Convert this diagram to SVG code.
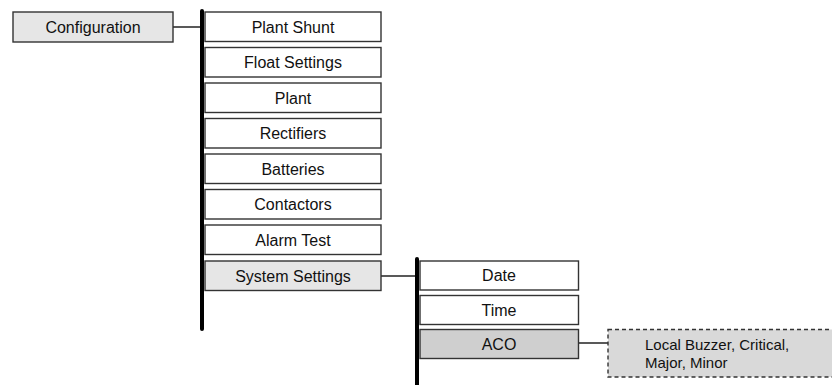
<svg xmlns="http://www.w3.org/2000/svg" width="832" height="385" viewBox="0 0 832 385">
<style>
.box{fill:#ffffff;stroke:#333333;stroke-width:1.4}
.grey{fill:#e6e6e6}
.dark{fill:#cfcfcf}
.dash{fill:#d9d9d9;stroke:#333333;stroke-width:1.4;stroke-dasharray:4,3}
.t{font-family:"Liberation Sans",Arial,sans-serif;font-size:16px;fill:#111111;text-anchor:middle}
.t2{font-family:"Liberation Sans",Arial,sans-serif;font-size:15px;fill:#111111}
.bar{stroke:#000000;stroke-width:4;stroke-linecap:round;fill:none}
.ln{stroke:#222222;stroke-width:1.5;fill:none}
</style>
<rect width="832" height="385" fill="#ffffff"/>
<g id="connectors">
<line class="ln" x1="173" y1="27" x2="202" y2="27"/>
<line class="bar" x1="202" y1="11" x2="202" y2="329"/>
<line class="ln" x1="381" y1="276" x2="417" y2="276"/>
<line class="bar" x1="417" y1="259" x2="417" y2="390"/>
<line class="ln" x1="579" y1="343" x2="608" y2="343"/>
</g>
<g id="configuration"><rect class="box grey" x="13" y="12" width="160" height="30"/><text class="t" x="93" y="32.5">Configuration</text></g>
<g id="plant-shunt"><rect class="box" x="205" y="12" width="176" height="29.5"/><text class="t" x="293" y="32.5">Plant Shunt</text></g>
<g id="float-settings"><rect class="box" x="205" y="47.5" width="176" height="29.5"/><text class="t" x="293" y="68">Float Settings</text></g>
<g id="plant"><rect class="box" x="205" y="83" width="176" height="29.5"/><text class="t" x="293" y="103.5">Plant</text></g>
<g id="rectifiers"><rect class="box" x="205" y="118.5" width="176" height="29.5"/><text class="t" x="293" y="139">Rectifiers</text></g>
<g id="batteries"><rect class="box" x="205" y="154" width="176" height="29.5"/><text class="t" x="293" y="174.5">Batteries</text></g>
<g id="contactors"><rect class="box" x="205" y="189.5" width="176" height="29.5"/><text class="t" x="293" y="210">Contactors</text></g>
<g id="alarm-test"><rect class="box" x="205" y="225" width="176" height="29.5"/><text class="t" x="293" y="245.5">Alarm Test</text></g>
<g id="system-settings"><rect class="box grey" x="205" y="261" width="176" height="29.5"/><text class="t" x="293" y="281.5">System Settings</text></g>
<g id="date"><rect class="box" x="420" y="261" width="158.5" height="29"/><text class="t" x="499" y="281">Date</text></g>
<g id="time"><rect class="box" x="420" y="295.5" width="158.5" height="29"/><text class="t" x="499" y="315.5">Time</text></g>
<g id="aco"><rect class="box dark" x="420" y="329.5" width="158.5" height="29"/><text class="t" x="499" y="349.5">ACO</text></g>
<g id="aco-options"><rect class="dash" x="608" y="329.5" width="230" height="47.5"/><text class="t2" x="645" y="350">Local Buzzer, Critical,</text><text class="t2" x="645" y="367.5">Major, Minor</text></g>
</svg>
